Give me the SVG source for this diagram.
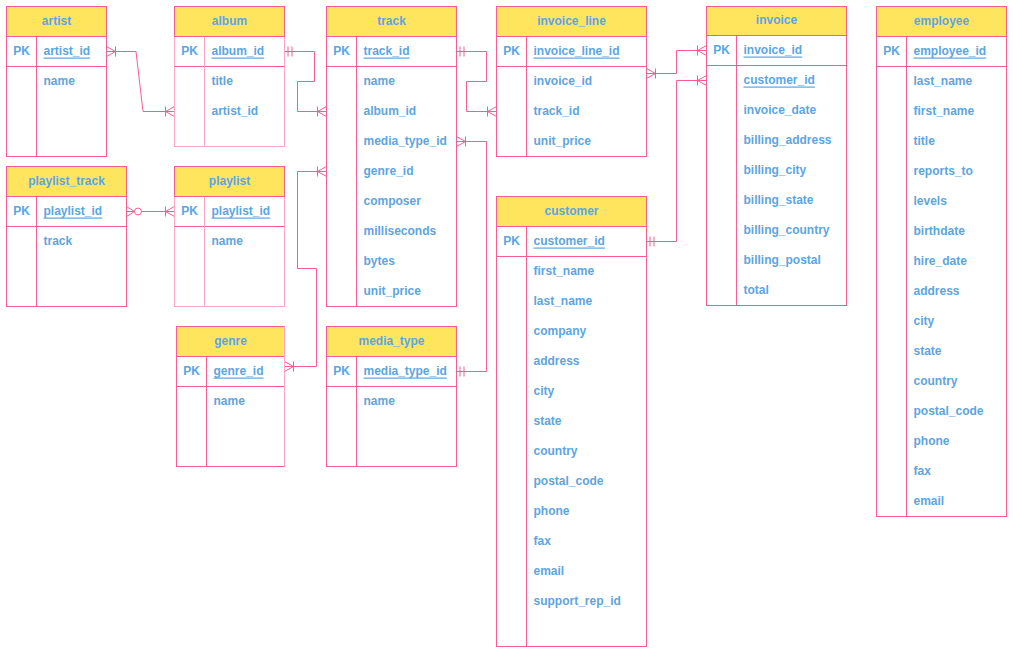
<svg xmlns="http://www.w3.org/2000/svg" width="1013" height="653" viewBox="0 0 1013 653">
  <defs>
    <style>
      .box { fill: #ffffff; stroke: #f95c8e; stroke-width: 1; }
      .pale { fill: #ffffff; stroke: #ffa6c4; stroke-width: 1; }
      .hdr { fill: #ffe45e; stroke: #f95c8e; stroke-width: 1; }
      .ln { stroke: #f95c8e; stroke-width: 1; fill: none; }
      .lnp { stroke: #ffa6c4; stroke-width: 1; fill: none; }
      text { font-family: "Liberation Sans", Arial, sans-serif; font-size: 12px; font-weight: bold; fill: #5ca5e2; dominant-baseline: central; }
      .t { text-anchor: middle; }
      .pk { text-anchor: middle; }
      .u { text-decoration: underline; }
      .conn path { stroke: #f95c8e; stroke-width: 1; fill: none; }
      .mk { stroke: #f95c8e; stroke-width: 1; fill: none; }
    </style>
    <marker id="many" markerUnits="userSpaceOnUse" markerWidth="20" markerHeight="20" viewBox="-15 -10 20 20" refX="0" refY="0" orient="auto-start-reverse" overflow="visible">
      <path class="mk" d="M-9,-5 V5 M-9,0 L0,-5 M-9,0 L0,5 M-9,0 H0"/>
    </marker>
    <marker id="one" markerUnits="userSpaceOnUse" markerWidth="20" markerHeight="20" viewBox="-15 -10 20 20" refX="0" refY="0" orient="auto-start-reverse" overflow="visible">
      <path class="mk" d="M-3.5,-5 V5 M-7.5,-5 V5"/>
    </marker>
    <marker id="zeromany" markerUnits="userSpaceOnUse" markerWidth="24" markerHeight="20" viewBox="-19 -10 24 20" refX="0" refY="0" orient="auto-start-reverse" overflow="visible">
      <path class="mk" d="M-8,0 L0,-5 M-8,0 L0,5 M-8,0 H0"/>
      <circle class="mk" cx="-11.5" cy="0" r="3.5" style="fill:#ffffff"/>
    </marker>
  </defs>

  <rect width="1013" height="653" fill="#ffffff"/>

  <!-- connectors -->
  <g id="connectors" class="conn">
    <path d="M106.5 51.5 H136 L143 111.5 H174.5" marker-start="url(#many)" marker-end="url(#many)"/>
    <path d="M284.5 51.5 H314.5 V81.5 H297.5 V111.5 H326.5" marker-start="url(#one)" marker-end="url(#many)"/>
    <path d="M456.5 51.5 H486.5 V81.5 H466.5 V111.5 H496.5" marker-start="url(#one)" marker-end="url(#many)"/>
    <path d="M456.5 141.5 H486.5 V371.5 H456.5" marker-start="url(#many)" marker-end="url(#one)"/>
    <path d="M284.5 366.5 H316.5 V268.5 H297.5 V171.5 H326.5" marker-start="url(#many)" marker-end="url(#many)"/>
    <path d="M126.5 211.5 H174.5" marker-start="url(#zeromany)" marker-end="url(#many)"/>
    <path d="M646.5 73.5 H676.5 V50.5 H706.5" marker-start="url(#many)" marker-end="url(#many)"/>
    <path d="M646.5 241.5 H676.5 V80.5 H706.5" marker-start="url(#one)" marker-end="url(#many)"/>
  </g>

  <!-- artist -->
  <g id="artist" transform="translate(6.5 6.5)">
    <rect class="box" width="100" height="150"/>
    <rect class="hdr" width="100" height="30"/>
    <path class="ln" d="M0 60 H100 M30 30 V150"/>
    <text class="t" x="50" y="14">artist</text>
    <text class="pk" x="15" y="44">PK</text>
    <text class="u" x="37" y="44">artist_id</text>
    <text x="37" y="74">name</text>
  </g>

  <!-- album -->
  <g id="album" transform="translate(174.5 6.5)">
    <rect class="pale" width="110" height="140"/>
    <rect class="hdr" width="110" height="30"/>
    <path class="ln" d="M0 60 H110"/>
    <path class="lnp" d="M30 30 V140"/>
    <text class="t" x="55" y="14">album</text>
    <text class="pk" x="15" y="44">PK</text>
    <text class="u" x="37" y="44">album_id</text>
    <text x="37" y="74">title</text>
    <text x="37" y="104">artist_id</text>
  </g>

  <!-- track -->
  <g id="track" transform="translate(326.5 6.5)">
    <rect class="box" width="130" height="300"/>
    <rect class="hdr" width="130" height="30"/>
    <path class="ln" d="M0 60 H130 M30 30 V300"/>
    <text class="t" x="65" y="14">track</text>
    <text class="pk" x="15" y="44">PK</text>
    <text class="u" x="37" y="44">track_id</text>
    <text x="37" y="74">name</text>
    <text x="37" y="104">album_id</text>
    <text x="37" y="134">media_type_id</text>
    <text x="37" y="164">genre_id</text>
    <text x="37" y="194">composer</text>
    <text x="37" y="224">milliseconds</text>
    <text x="37" y="254">bytes</text>
    <text x="37" y="284">unit_price</text>
  </g>

  <!-- invoice_line -->
  <g id="invoice_line" transform="translate(496.5 6.5)">
    <rect class="box" width="150" height="150"/>
    <rect class="hdr" width="150" height="30"/>
    <path class="ln" d="M0 60 H150 M30 30 V150"/>
    <text class="t" x="75" y="14">invoice_line</text>
    <text class="pk" x="15" y="44">PK</text>
    <text class="u" x="37" y="44">invoice_line_id</text>
    <text x="37" y="74">invoice_id</text>
    <text x="37" y="104">track_id</text>
    <text x="37" y="134">unit_price</text>
  </g>

  <!-- invoice -->
  <g id="invoice" transform="translate(706.5 6.5)">
    <rect class="box" width="140" height="299"/>
    <rect class="hdr" width="140" height="29"/>
    <path class="ln" d="M0 59 H140 M30 29 V299"/>
    <text class="t" x="70" y="13">invoice</text>
    <text class="pk" x="15" y="43">PK</text>
    <text class="u" x="37" y="43">invoice_id</text>
    <text class="u" x="37" y="73">customer_id</text>
    <text x="37" y="103">invoice_date</text>
    <text x="37" y="133">billing_address</text>
    <text x="37" y="163">billing_city</text>
    <text x="37" y="193">billing_state</text>
    <text x="37" y="223">billing_country</text>
    <text x="37" y="253">billing_postal</text>
    <text x="37" y="283">total</text>
  </g>

  <!-- employee -->
  <g id="employee" transform="translate(876.5 6.5)">
    <rect class="box" width="130" height="510"/>
    <rect class="hdr" width="130" height="30"/>
    <path class="ln" d="M0 60 H130 M30 30 V510"/>
    <text class="t" x="65" y="14">employee</text>
    <text class="pk" x="15" y="44">PK</text>
    <text class="u" x="37" y="44">employee_id</text>
    <text x="37" y="74">last_name</text>
    <text x="37" y="104">first_name</text>
    <text x="37" y="134">title</text>
    <text x="37" y="164">reports_to</text>
    <text x="37" y="194">levels</text>
    <text x="37" y="224">birthdate</text>
    <text x="37" y="254">hire_date</text>
    <text x="37" y="284">address</text>
    <text x="37" y="314">city</text>
    <text x="37" y="344">state</text>
    <text x="37" y="374">country</text>
    <text x="37" y="404">postal_code</text>
    <text x="37" y="434">phone</text>
    <text x="37" y="464">fax</text>
    <text x="37" y="494">email</text>
  </g>

  <!-- playlist_track -->
  <g id="playlist_track" transform="translate(6.5 166.5)">
    <rect class="box" width="120" height="140"/>
    <rect class="hdr" width="120" height="30"/>
    <path class="ln" d="M0 60 H120 M30 30 V140"/>
    <text class="t" x="60" y="14">playlist_track</text>
    <text class="pk" x="15" y="44">PK</text>
    <text class="u" x="37" y="44">playlist_id</text>
    <text x="37" y="74">track</text>
  </g>

  <!-- playlist -->
  <g id="playlist" transform="translate(174.5 166.5)">
    <rect class="pale" width="110" height="140"/>
    <rect class="hdr" width="110" height="30"/>
    <path class="ln" d="M0 60 H110"/>
    <path class="lnp" d="M30 30 V140"/>
    <text class="t" x="55" y="14">playlist</text>
    <text class="pk" x="15" y="44">PK</text>
    <text class="u" x="37" y="44">playlist_id</text>
    <text x="37" y="74">name</text>
  </g>

  <!-- genre -->
  <g id="genre" transform="translate(176.5 326.5)">
    <rect class="box" width="108" height="140"/>
    <rect class="hdr" width="108" height="30"/>
    <path class="ln" d="M0 60 H108 M30 30 V140"/>
    <path class="lnp" d="M108 0 V140"/>
    <text class="t" x="54" y="14">genre</text>
    <text class="pk" x="15" y="44">PK</text>
    <text class="u" x="37" y="44">genre_id</text>
    <text x="37" y="74">name</text>
  </g>

  <!-- media_type -->
  <g id="media_type" transform="translate(326.5 326.5)">
    <rect class="box" width="130" height="140"/>
    <rect class="hdr" width="130" height="30"/>
    <path class="ln" d="M0 60 H130 M30 30 V140"/>
    <text class="t" x="65" y="14">media_type</text>
    <text class="pk" x="15" y="44">PK</text>
    <text class="u" x="37" y="44">media_type_id</text>
    <text x="37" y="74">name</text>
  </g>

  <!-- customer -->
  <g id="customer" transform="translate(496.5 196.5)">
    <rect class="box" width="150" height="450"/>
    <rect class="hdr" width="150" height="30"/>
    <path class="ln" d="M0 60 H150 M30 30 V450"/>
    <text class="t" x="75" y="14">customer</text>
    <text class="pk" x="15" y="44">PK</text>
    <text class="u" x="37" y="44">customer_id</text>
    <text x="37" y="74">first_name</text>
    <text x="37" y="104">last_name</text>
    <text x="37" y="134">company</text>
    <text x="37" y="164">address</text>
    <text x="37" y="194">city</text>
    <text x="37" y="224">state</text>
    <text x="37" y="254">country</text>
    <text x="37" y="284">postal_code</text>
    <text x="37" y="314">phone</text>
    <text x="37" y="344">fax</text>
    <text x="37" y="374">email</text>
    <text x="37" y="404">support_rep_id</text>
  </g>
</svg>
